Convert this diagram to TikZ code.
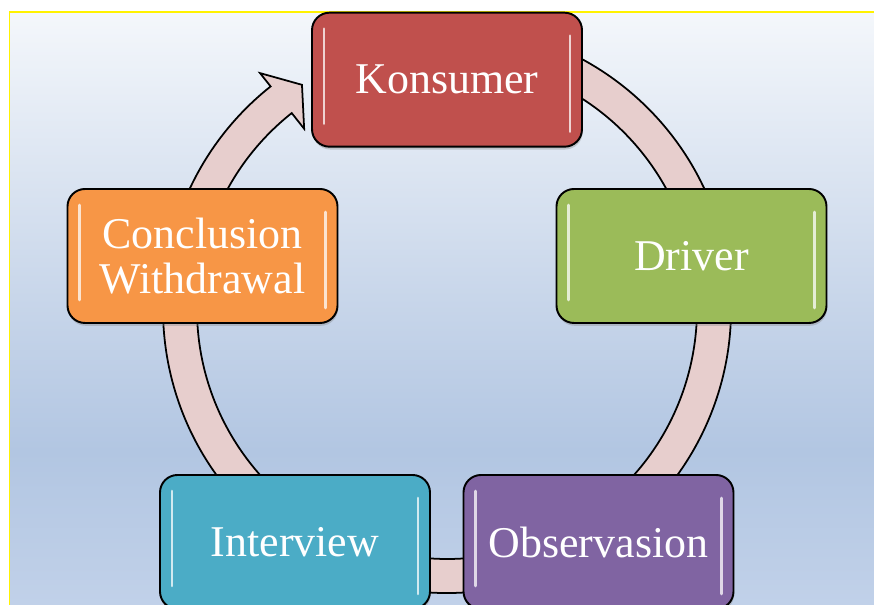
\documentclass[tikz,border=0pt]{standalone}
\usepackage{fontspec}
\setmainfont{Liberation Serif}
\usepackage{xcolor}
\usetikzlibrary{
    arrows.meta,
    shapes,
    positioning,
    shadows,
    calc
}
\definecolor{konred}{RGB}{192,80,77}
\definecolor{drvgreen}{RGB}{155,187,89}
\definecolor{obspurple}{RGB}{128,100,162}
\definecolor{intaqua}{RGB}{75,172,198}
\definecolor{conorange}{RGB}{247,150,70}
\definecolor{ringpink}{RGB}{231,206,205}
\definecolor{bgtop}{RGB}{244,247,251}
\definecolor{bgmid}{RGB}{200,214,234}
\definecolor{bgdeep}{RGB}{178,198,226}
\definecolor{bgbottom}{RGB}{193,209,233}
\pgfdeclareverticalshading{skyfade}{100bp}{
    color(0bp)=(bgbottom); color(25bp)=(bgbottom); color(38bp)=(bgdeep);
    color(51bp)=(bgmid); color(75bp)=(bgtop); color(100bp)=(bgtop)}
\tikzset{%
    >={Latex[width=2mm,length=2mm]},
    % Specifications for style of nodes:
    gloss/.style = {white, opacity=0.75, line width=1.5pt, line cap=round},
    base/.style = {
        rectangle, rounded corners=0.35cm, draw=black, line width=1.1pt,
        minimum width=5.4cm, minimum height=2.68cm,
        text centered, text=white, align=center,
        font=\fontsize{25}{26}\selectfont,
        drop shadow={opacity=0.35, shadow xshift=0.4pt, shadow yshift=-1.6pt},
        path picture={
            \draw[gloss] ([shift={(0.24,-0.32)}]path picture bounding box.north west)
                -- ([shift={(0.24,0.46)}]path picture bounding box.south west);
            \draw[gloss] ([shift={(-0.24,-0.46)}]path picture bounding box.north east)
                -- ([shift={(-0.24,0.3)}]path picture bounding box.south east);
        }
    },
    konsumer/.style = {base, fill=konred},
    driver/.style = {base, fill=drvgreen},
    observ/.style = {base, fill=obspurple},
    interv/.style = {base, fill=intaqua},
    conclu/.style = {base, fill=conorange},
    ring/.style = {fill=ringpink, draw=black, line width=1pt, line join=miter}
}
\begin{document}
\begin{tikzpicture}
    \useasboundingbox (0,0) rectangle (17.48,12.1);
    \fill[shading=skyfade] (0.19,0) rectangle (17.6,11.854);
    \draw[yellow, line width=1.1pt] (0.19,-0.5) -- (0.19,11.854) -- (17.6,11.854);

    \coordinate (ctr) at (8.94,5.92);
    \draw[ring] ($(ctr)+(100:5.68)$) arc[start angle=100, end angle=-231.6, radius=5.68]
        -- ($(ctr)+(128.4:6.02)$) -- ($(ctr)+(122.9:5.34)$) -- ($(ctr)+(128.4:4.60)$)
        -- ($(ctr)+(128.4:5.00)$) arc[start angle=-231.6, end angle=100, radius=5.00] -- cycle;

    \node[konsumer] (kons) at (8.94,10.506) {Konsumer};
    \node[driver] (drv) at (13.83,6.98) {Driver};
    \node[observ] (obs) at (11.97,1.26) {Observasion};
    \node[interv] (intv) at (5.90,1.26) {Interview};
    \node[conclu] (concl) at (4.05,6.98) {Conclusion\\Withdrawal};
\end{tikzpicture}
\end{document}
